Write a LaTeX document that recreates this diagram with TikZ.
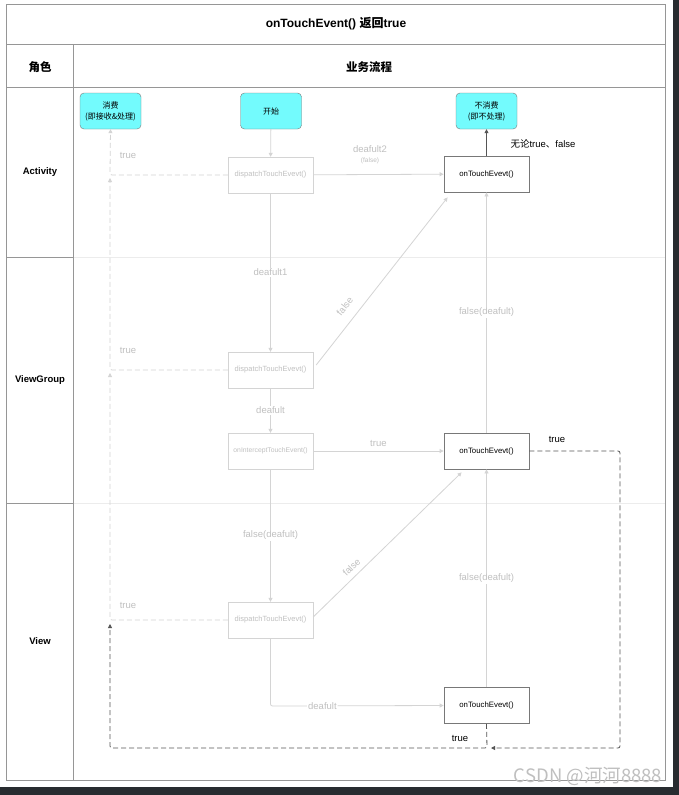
\documentclass[tikz,border=0pt]{standalone}
\usepackage{fontspec}
\setmainfont{Liberation Sans}
\newfontfamily\cjk{Noto Sans CJK SC}
\usepackage{tikz}
\usetikzlibrary{arrows.meta}
\usepackage{xcolor}

\definecolor{cyanbox}{RGB}{115,251,253}
\definecolor{faded}{RGB}{212,212,212}
\definecolor{fadedtext}{RGB}{192,192,192}
\definecolor{framegray}{RGB}{150,150,150}
\definecolor{gridgray}{RGB}{236,236,236}
\definecolor{darkline}{RGB}{85,85,85}
\definecolor{boxline}{RGB}{120,120,120}
\definecolor{bggray}{RGB}{40,44,48}

\begin{document}
\begin{tikzpicture}[x=1pt, y=-1pt,
        lane/.style={font=\bfseries\fontsize{9.5}{11}\selectfont},
        head/.style={font=\cjk\bfseries\fontsize{11.5}{13}\selectfont},
        endpoint/.style={draw=boxline, fill=cyanbox, rounded corners=4pt, minimum width=61pt, minimum height=36pt, inner sep=1pt, align=center, font=\cjk\fontsize{8}{11}\selectfont},
        fadebox/.style={draw=faded, minimum width=85pt, minimum height=36pt, inner sep=1pt, text=fadedtext, font=\fontsize{7.5}{9}\selectfont},
        callbox/.style={draw=boxline, line width=0.8pt, minimum width=85pt, minimum height=36pt, inner sep=1pt, font=\fontsize{7.8}{9}\selectfont},
        flow/.style={draw=faded, line width=0.8pt, -{Triangle[length=4pt,width=4pt]}},
        back/.style={flow, dash pattern=on 5pt off 3pt, rounded corners=2pt},
        ret/.style={draw=darkline, line width=0.8pt, dash pattern=on 5pt off 3pt, rounded corners=2pt, -{Triangle[length=4pt,width=4pt]}},
        lbl/.style={text=fadedtext, font=\fontsize{9.5}{11}\selectfont, fill=white, inner sep=1pt}]

        % Page and frame
        \useasboundingbox (0,0) rectangle (679,795);
        \fill[bggray] (0,0) rectangle (679,795);
        \fill[white] (0,0) rectangle (673,787);
        \draw[gridgray, line width=0.8pt] (73,257) -- (665,257);
        \draw[gridgray, line width=0.8pt] (73,503) -- (665,503);
        \draw[framegray, line width=0.9pt] (6,4) rectangle (665,780);
        \draw[framegray, line width=0.9pt] (6,44) -- (665,44);
        \draw[framegray, line width=0.9pt] (6,87) -- (665,87);
        \draw[framegray, line width=0.9pt] (73,44) -- (73,780);
        \draw[framegray, line width=0.9pt] (6,257) -- (73,257);
        \draw[framegray, line width=0.9pt] (6,503) -- (73,503);

        % Headers
        \node[font=\bfseries\fontsize{12}{14}\selectfont] (title) at (336,24) {onTouchEvent() {\cjk 返回}true};
        \node[head] (role) at (40,67) {角色};
        \node[head] (flowhead) at (369,67) {业务流程};
        \node[lane] (act) at (40,172) {Activity};
        \node[lane] (vg) at (40,380) {ViewGroup};
        \node[lane] (view) at (40,641) {View};

        % End points
        \node[endpoint] (used)  at (110.5,111) {消费\\(即接收\&处理)};
        \node[endpoint] (start) at (271,111)   {开始};
        \node[endpoint] (unused) at (486.5,111) {不消费\\(即不处理)};

        % Activity
        \node[fadebox] (dispA)  at (270.5,175) {dispatchTouchEvevt()};
        \node[callbox] (touchA) at (486.5,174) {onTouchEvevt()};

        % ViewGroup
        \node[fadebox] (dispB)  at (270.5,370) {dispatchTouchEvevt()};
        \node[fadebox, font=\fontsize{6.8}{8}\selectfont] (icpt) at (270.5,451) {onInterceptTouchEvent()};
        \node[callbox] (touchB) at (486.5,451) {onTouchEvevt()};

        % View
        \node[fadebox] (dispC)  at (270.5,620) {dispatchTouchEvevt()};
        \node[callbox] (touchV) at (486.5,705.5) {onTouchEvevt()};

        % Turning points
        \coordinate (upA) at (110,175);
        \coordinate (upB) at (110,370);
        \coordinate (upC) at (110,620);
        \coordinate (downV) at (487,748);
        \coordinate (rightB) at (620,451);
        \coordinate (cornerB) at (620,748);
        \coordinate (cornerV) at (110,748);
        \coordinate (turnC) at (270.5,706);

        % Down the chain
        \draw[flow] (start) -- (dispA);
        \draw[flow] (dispA) -- node[lbl] {deafult1} (dispB);
        \draw[flow] (dispB) -- node[lbl] {deafult} (icpt);
        \draw[flow] (icpt) -- node[lbl] {false(deafult)} (dispC);
        \draw[flow, rounded corners=2pt] (dispC.south) -- (turnC) -- node[lbl, pos=0.3] {deafult} (touchV.west);

        % Across to onTouchEvent
        \draw[flow] (dispA) -- (touchA);
        \node[lbl] (d2) at (370,149) {deafult2};
        \node[lbl, font=\fontsize{6.5}{8}\selectfont] (d2f) at (370,161) {(false)};
        \draw[flow] (icpt) -- node[lbl, fill=none, above=3pt] {true} (touchB);
        \draw[flow] ([xshift=3pt,yshift=5pt]dispB.east) -- node[lbl, fill=none, sloped, above=9pt, pos=0.3] {false} ([xshift=4pt,yshift=-5pt]touchA.south west);
        \draw[flow] ([yshift=3pt]dispC.east) -- node[lbl, fill=none, sloped, above=4pt, pos=0.3] {false} ([xshift=18pt,yshift=-3pt]touchB.south west);

        % Back up the chain
        \draw[flow] (touchV) -- node[lbl] {false(deafult)} (touchB);
        \draw[flow] (touchB) -- node[lbl] {false(deafult)} (touchA);
        \draw[draw=darkline, line width=0.8pt, -{Triangle[length=4pt,width=4pt]}] (touchA) -- (unused);
        \node[anchor=west, font=\fontsize{9.5}{11}\selectfont] (any) at (507,144) {{\cjk 无论}true{\cjk 、}false};

        % Consumed paths
        \draw[back] (dispA.west) -- (upA) -- (used.south);
        \draw[back] (dispB.west) -- (upB) -- ([yshift=-3pt]upA);
        \draw[back] (dispC.west) -- (upC) -- ([yshift=-3pt]upB);
        \node[lbl, fill=none] (tA) at (128,155) {true};
        \node[lbl, fill=none] (tB) at (128,350) {true};
        \node[lbl, fill=none] (tC) at (128,605) {true};

        % Returned true
        \draw[ret] (touchB.east) -- (rightB) -- (cornerB) -- ([xshift=4pt]downV);
        \draw[ret] (touchV.south) -- (downV) -- (cornerV) -- ([yshift=-4pt]upC);
        \node[font=\fontsize{9.5}{11}\selectfont] (tB2) at (557,439) {true};
        \node[font=\fontsize{9.5}{11}\selectfont] (tV2) at (460,738) {true};

        % Watermark
        \node[text=gray!50, font=\cjk\fontsize{18.5}{20}\selectfont] (mark) at (588,776) {CSDN @河河8888};
    \end{tikzpicture}
\end{document}
